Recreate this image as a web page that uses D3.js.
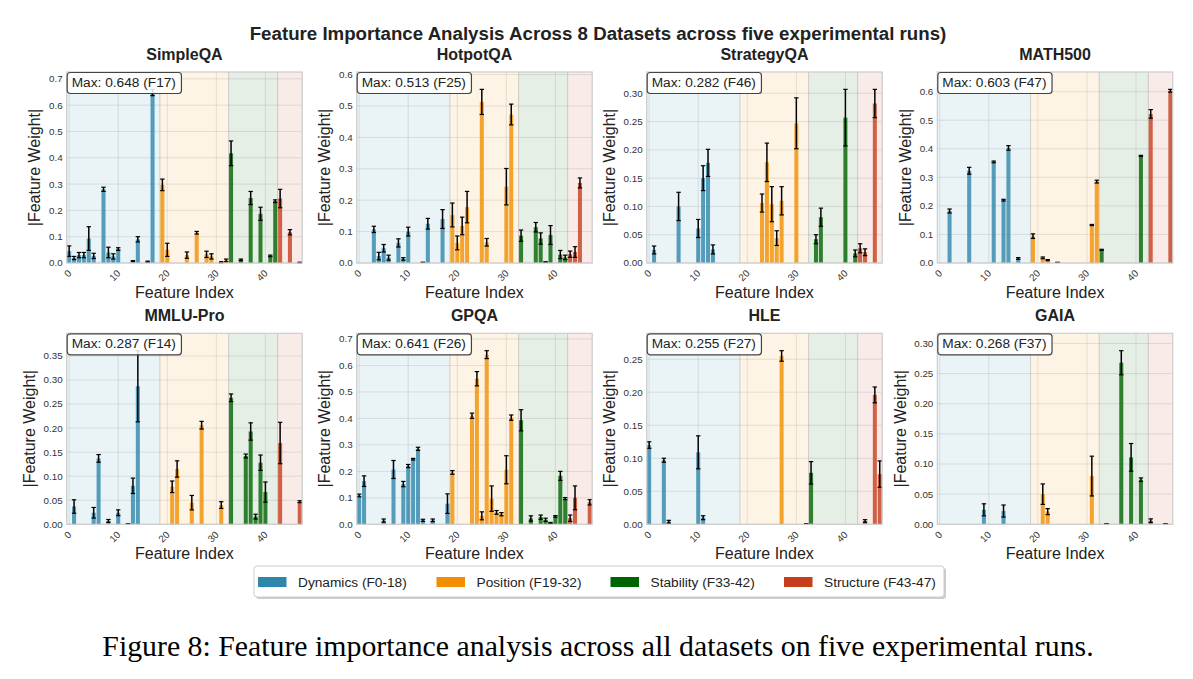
<!DOCTYPE html>
<html><head><meta charset="utf-8">
<script src="https://cdn.jsdelivr.net/npm/d3@7"></script>
<style>body{margin:0;background:#fff}</style>
</head><body>
<script>
// ---------------- DATA ----------------
const datasets = ["SimpleQA","HotpotQA","StrategyQA","MATH500","MMLU-Pro","GPQA","HLE","GAIA"];

const simpleqaVals = [0.045,0.019,0.030,0.030,0.093,0.027,0,0.280,0.040,0.025,0.053,0,0,0.007,0.090,0,0.005,0.648,0,
  0.297,0.050,0,0,0,0.030,0,0.115,0,0.033,0.025,0,0.003,0.010,
  0.417,0,0.012,0,0.247,0,0.187,0,0.027,0.235,
  0.245,0,0.117,0,0.002];
const simpleqaErrs = [0.020,0.006,0.010,0.010,0.045,0.010,0,0.008,0.020,0.010,0.005,0,0,0.002,0.010,0,0.002,0.012,0,
  0.022,0.025,0,0,0,0.012,0,0.005,0,0.012,0.010,0,0.002,0.005,
  0.047,0,0.003,0,0.025,0,0.025,0,0.003,0.005,
  0.035,0,0.010,0,0.001];

const hotpotqaVals = [0,0,0,0.107,0.022,0.047,0.017,0,0.064,0.013,0.100,0,0,0.002,0.125,0,0,0.140,0,
  0.153,0.064,0.118,0.178,0,0,0.513,0.066,0,0,0,0.243,0.473,0,
  0.087,0,0,0.114,0.078,0.003,0.089,0,0.027,0.018,
  0.028,0.035,0.255,0,0];
const hotpotqaErrs = [0,0,0,0.010,0.012,0.012,0.008,0,0.013,0.004,0.014,0,0,0,0.017,0,0,0.030,0,
  0.038,0.022,0.028,0.050,0,0,0.040,0.012,0,0,0,0.058,0.033,0,
  0.018,0,0,0.015,0.018,0.001,0.030,0,0.013,0.007,
  0.010,0.017,0.016,0,0];

const strategyqaVals = [0,0.023,0,0,0,0,0.100,0,0,0,0.061,0.150,0.177,0.024,0,0,0,0,0,
  0,0,0,0,0.106,0.178,0.104,0.044,0.110,0,0,0.247,0,0,
  0,0.042,0.081,0,0,0,0,0.257,0,0.017,
  0.026,0.019,0,0.282,0];
const strategyqaErrs = [0,0.007,0,0,0,0,0.025,0,0,0,0.016,0.022,0.024,0.008,0,0,0,0,0,
  0,0,0,0,0.016,0.034,0.031,0.013,0.025,0,0,0.045,0,0,
  0,0.008,0.016,0,0,0,0,0.050,0,0.006,
  0.008,0.006,0,0.025,0];

const math500Vals = [0,0,0.182,0,0,0,0.323,0,0,0,0,0.354,0,0.220,0.403,0,0.016,0,0,
  0.094,0,0.018,0.010,0,0.002,0,0,0,0,0,0,0.133,0.285,
  0.046,0,0,0,0,0,0,0,0.375,0,
  0.522,0,0,0,0.603];
const math500Errs = [0,0,0.007,0,0,0,0.012,0,0,0,0,0.003,0,0.003,0.008,0,0.003,0,0,
  0.008,0,0.003,0.002,0,0,0,0,0,0,0,0,0.002,0.005,
  0.002,0,0,0,0,0,0,0,0.002,0,
  0.015,0,0,0,0.005];

const mmluproVals = [0,0.037,0,0,0,0.024,0.137,0,0.007,0,0.024,0,0.001,0.080,0.287,0,0,0,0,
  0,0,0.078,0.115,0,0,0.045,0,0.206,0,0,0,0.040,0,
  0.263,0,0,0.142,0.193,0.016,0.128,0.067,0,0,
  0.169,0,0,0,0.047];
const mmluproErrs = [0,0.014,0,0,0,0.011,0.008,0,0.003,0,0.006,0,0,0.016,0.074,0,0,0,0,
  0,0,0.012,0.017,0,0,0.015,0,0.008,0,0,0,0.007,0,
  0.008,0,0,0.004,0.018,0.005,0.016,0.021,0,0,
  0.043,0,0,0,0.002];

const gpqaVals = [0.109,0.163,0,0,0,0.014,0,0.207,0,0.152,0.220,0.246,0.285,0.015,0,0.015,0,0,0.078,
  0.196,0,0,0,0.410,0.550,0.032,0.641,0.097,0.045,0.038,0.206,0.403,0,
  0.393,0,0.022,0,0.027,0.017,0.005,0.030,0.183,0.097,
  0.023,0.100,0,0,0.083];
const gpqaErrs = [0.005,0.020,0,0,0,0.006,0,0.034,0,0.010,0.006,0.003,0.006,0.004,0,0.005,0,0,0.037,
  0.007,0,0,0,0.010,0.027,0.015,0.015,0.048,0.007,0.006,0.053,0.010,0,
  0.040,0,0.010,0,0.008,0.006,0.002,0.003,0.017,0.004,
  0.012,0.045,0,0,0.010];

const hleVals = [0.120,0,0,0.097,0.004,0,0,0,0,0,0.109,0.010,0,0,0,0,0,0,0,
  0,0,0,0,0,0,0,0,0.255,0,0,0,0,0.001,
  0.078,0,0,0,0,0,0,0,0,0,
  0,0.005,0,0.196,0.076];
const hleErrs = [0.005,0,0,0.003,0.002,0,0,0,0,0,0.025,0.003,0,0,0,0,0,0,0,
  0,0,0,0,0,0,0,0,0.008,0,0,0,0,0,
  0.017,0,0,0,0,0,0,0,0,0,
  0,0.002,0,0.012,0.020];

const gaiaVals = [0,0,0,0,0,0,0,0,0,0.024,0,0,0,0.022,0,0,0,0,0,
  0,0,0.050,0.021,0,0,0,0,0,0,0,0,0.080,0,
  0,0.001,0,0,0.268,0,0.111,0,0.074,0,
  0.006,0,0,0.001,0];
const gaiaErrs = [0,0,0,0,0,0,0,0,0,0.010,0,0,0,0.010,0,0,0,0,0,
  0,0,0.017,0.005,0,0,0,0,0,0,0,0,0.033,0,
  0,0,0,0,0.020,0,0.023,0,0.003,0,
  0.003,0,0,0,0];

const allVals = [simpleqaVals,hotpotqaVals,strategyqaVals,math500Vals,mmluproVals,gpqaVals,hleVals,gaiaVals];
const allErrs = [simpleqaErrs,hotpotqaErrs,strategyqaErrs,math500Errs,mmluproErrs,gpqaErrs,hleErrs,gaiaErrs];

const yTickSteps = [0.1,0.1,0.05,0.1,0.05,0.1,0.05,0.05];
const xTickValues = [0,10,20,30,40];

const groupNames = ["Dynamics (F0-18)","Position (F19-32)","Stability (F33-42)","Structure (F43-47)"];
const groupStarts = [0,19,33,43];
const groupEnds = [18,32,42,47];
const groupColors = ["#2E86AB","#F18F01","#006400","#C73E1D"];

const supTitle = "Feature Importance Analysis Across 8 Datasets across five experimental runs)";
const captionText = "Figure 8: Feature importance analysis across all datasets on five experimental runs.";
const yLabelText = "|Feature Weight|";
const xLabelText = "Feature Index";

// ---------------- DRAW ----------------
const FONT = "'Liberation Sans', Arial, Helvetica, sans-serif";
const svg = d3.select("body").append("svg").attr("width",1193).attr("height",679)
  .style("font-family",FONT);
svg.append("rect").attr("width",1193).attr("height",679).attr("fill","#fff");

const pw = 235.5, ph = 191;
const lefts = [66.7,356.7,646.7,937.3];
const tops = [72,333.3];
const nFeat = allVals[0].length;

function groupOf(i){ return d3.bisectRight(groupStarts,i)-1; }

datasets.forEach((name,k)=>{
  const col = k%4, row = Math.floor(k/4);
  const g = svg.append("g").attr("transform",`translate(${lefts[col]},${tops[row]})`);
  const vals = allVals[k], errs = allErrs[k];
  const ymax = d3.max(vals,(v,i)=>v+errs[i])*1.1;
  const x = d3.scaleLinear().domain([-0.5,nFeat-0.5]).range([0,pw]);
  const y = d3.scaleLinear().domain([0,ymax]).range([ph,0]);
  const step = yTickSteps[k];
  const dec = step < 0.1 ? 2 : 1;
  const yTicks = d3.range(0, Math.floor(ymax/step+1e-6)+1).map(i=>+(i*step).toFixed(4));

  // grid
  g.append("g").selectAll("line").data(yTicks).join("line")
    .attr("x1",0).attr("x2",pw).attr("y1",d=>y(d)).attr("y2",d=>y(d))
    .attr("stroke","#b8b8b8").attr("stroke-opacity",0.45).attr("stroke-width",0.8);
  g.append("g").selectAll("line").data(xTickValues).join("line")
    .attr("x1",d=>x(d)).attr("x2",d=>x(d)).attr("y1",0).attr("y2",ph)
    .attr("stroke","#b8b8b8").attr("stroke-opacity",0.45).attr("stroke-width",0.8);

  // group spans
  g.append("g").selectAll("rect").data(groupStarts).join("rect")
    .attr("x",(d,j)=>x(d-0.5)).attr("width",(d,j)=>x(groupEnds[j]+0.5)-x(d-0.5))
    .attr("y",0).attr("height",ph)
    .attr("fill",(d,j)=>groupColors[j]).attr("fill-opacity",0.1);
  g.append("g").selectAll("line").data(groupStarts.slice(1)).join("line")
    .attr("x1",d=>x(d-0.5)).attr("x2",d=>x(d-0.5)).attr("y1",0).attr("y2",ph)
    .attr("stroke","#888").attr("stroke-opacity",0.35).attr("stroke-width",1);

  // bars
  const bw = 0.82;
  const idx = d3.range(nFeat);
  g.append("g").selectAll("rect").data(idx.filter(i=>vals[i]>0)).join("rect")
    .attr("x",i=>x(i-bw/2)).attr("width",i=>x(i+bw/2)-x(i-bw/2))
    .attr("y",i=>y(vals[i])).attr("height",i=>y(0)-y(vals[i]))
    .attr("fill",i=>groupColors[groupOf(i)]).attr("fill-opacity",0.8);

  // error bars
  const eb = g.append("g").attr("stroke","#000").attr("stroke-width",1.5);
  idx.filter(i=>vals[i]>0).forEach(i=>{
    const lo = Math.max(0, vals[i]-errs[i]), hi = vals[i]+errs[i];
    const cx = x(i);
    eb.append("line").attr("x1",cx).attr("x2",cx).attr("y1",y(lo)).attr("y2",y(hi));
    eb.append("line").attr("x1",cx-2.2).attr("x2",cx+2.2).attr("y1",y(lo)).attr("y2",y(lo)).attr("stroke-width",1.2);
    eb.append("line").attr("x1",cx-2.2).attr("x2",cx+2.2).attr("y1",y(hi)).attr("y2",y(hi)).attr("stroke-width",1.2);
  });

  // frame
  g.append("rect").attr("x",0).attr("y",0).attr("width",pw).attr("height",ph)
    .attr("fill","none").attr("stroke","#cccccc").attr("stroke-width",1.2);

  // y tick labels
  g.append("g").selectAll("text").data(yTicks).join("text")
    .attr("x",-4).attr("y",d=>y(d)).attr("dy","0.35em")
    .attr("text-anchor","end").attr("font-size",9.8).attr("fill","#333")
    .text(d=>d.toFixed(dec));
  // x tick labels
  g.append("g").selectAll("text").data(xTickValues).join("text")
    .attr("transform",d=>`translate(${x(d)+3},${ph+11}) rotate(-45)`)
    .attr("text-anchor","end").attr("font-size",9.8).attr("fill","#333")
    .text(d=>d);

  // axis labels
  g.append("text").attr("transform",`translate(${dec===2?-37:-32},${ph/2}) rotate(-90)`)
    .attr("text-anchor","middle").attr("dy","0.35em").attr("font-size",16).attr("fill","#222")
    .text(yLabelText);
  g.append("text").attr("x",pw/2).attr("y",ph+34.5).attr("text-anchor","middle")
    .attr("font-size",16).attr("fill","#222").text(xLabelText);

  // title
  g.append("text").attr("x",pw/2).attr("y",-12).attr("text-anchor","middle")
    .attr("font-size",16).attr("font-weight","bold").attr("fill","#222").text(name);

  // max annotation
  const mi = d3.maxIndex(vals);
  const label = `Max: ${vals[mi].toFixed(3)} (F${mi})`;
  const box = g.append("g");
  const t = box.append("text").attr("x",5).attr("y",15).attr("font-size",13.7).attr("fill","#222").text(label);
  const tw = t.node().getComputedTextLength();
  box.insert("rect","text").attr("x",0.5).attr("y",0.5).attr("width",tw+10).attr("height",21)
    .attr("rx",3).attr("fill","#fff").attr("fill-opacity",0.85)
    .attr("stroke","#444").attr("stroke-width",1.2);
});

// suptitle
svg.append("text").attr("x",598).attr("y",40).attr("text-anchor","middle")
  .attr("font-size",18.7).attr("font-weight","bold").attr("fill","#222").text(supTitle);

// legend
const lg = svg.append("g");
lg.append("rect").attr("x",256).attr("y",568).attr("width",690).attr("height",31).attr("rx",3)
  .attr("fill","#999").attr("fill-opacity",0.5);
lg.append("rect").attr("x",254).attr("y",566).attr("width",690).attr("height",31).attr("rx",3)
  .attr("fill","#fff").attr("stroke","#ccc").attr("stroke-width",1);
const legendX = [258,436.5,610.5,784];
groupNames.forEach((n,j)=>{
  lg.append("rect").attr("x",legendX[j]).attr("y",577).attr("width",28.5).attr("height",10)
    .attr("fill",groupColors[j]);
  lg.append("text").attr("x",legendX[j]+40).attr("y",587).attr("font-size",13.7).attr("fill","#222").text(n);
});

// caption
svg.append("text").attr("x",598).attr("y",656).attr("text-anchor","middle")
  .attr("font-family","'Liberation Serif', 'Times New Roman', serif")
  .attr("font-size",29.8).attr("fill","#000").text(captionText);
</script>
</body></html>
